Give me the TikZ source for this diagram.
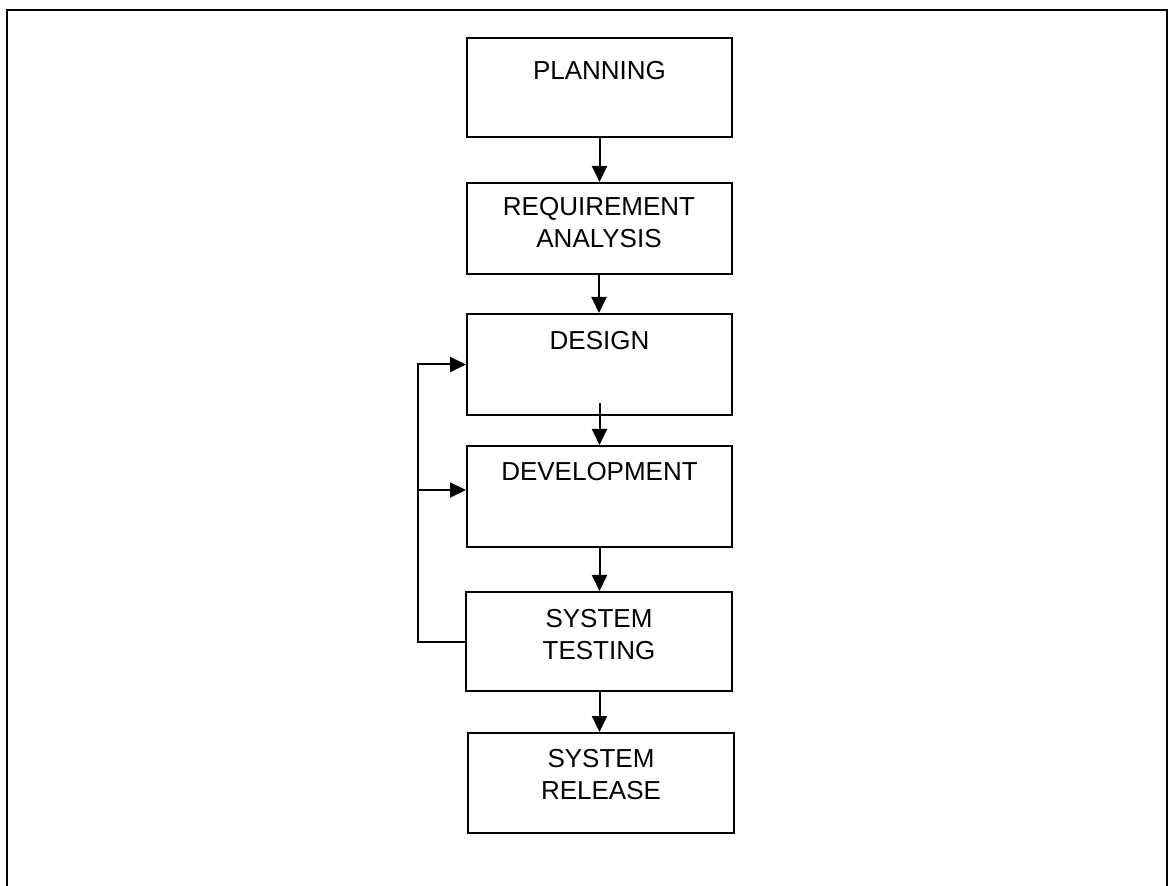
\documentclass[tikz,border=0pt]{standalone}
\usepackage{fontspec}
\setmainfont{Liberation Sans}
\usetikzlibrary{arrows.meta,calc}
\tikzset{
  stage/.style={draw, line width=1pt, inner sep=0pt, minimum width=132.5pt},
  caption/.style={anchor=north, inner sep=0pt, align=center,
                  font=\fontsize{13pt}{16pt}\selectfont},
  flow/.style={line width=1pt, -{Triangle[length=8pt,width=7.5pt]}},
  frameline/.style={line width=1pt}
}
\begin{document}
\begin{tikzpicture}[x=0.5pt,y=-0.5pt]
\useasboundingbox (0,0) rectangle (1171,886);
% page frame, open at the bottom
\draw[frameline] (7,886) -- (7,10) -- (1167,10) -- (1167,886);

% stages
\node[stage, minimum height=49.5pt] (plan)    at (599.5,87.5) {};
\node[stage, minimum height=45.5pt] (req)     at (599,228.5)  {};
\node[stage, minimum height=50.5pt] (design)  at (599.5,364.5){};
\node[stage, minimum height=50.5pt] (dev)     at (599.5,496.5){};
\node[stage, minimum height=49.5pt, minimum width=133pt] (test)    at (599,641.5)  {};
\node[stage, minimum height=50pt,   minimum width=133pt] (release) at (601,783)    {};

% stage captions
\node[caption] (planT)    at ($(plan.north)+(0,24)$)    {PLANNING};
\node[caption] (reqT)     at ($(req.north)+(0,15)$)     {REQUIREMENT\\ANALYSIS};
\node[caption] (designT)  at ($(design.north)+(0,18)$)  {DESIGN};
\node[caption] (devT)     at ($(dev.north)+(0,17)$)     {DEVELOPMENT};
\node[caption] (testT)    at ($(test.north)+(0,18)$)    {SYSTEM\\TESTING};
\node[caption] (releaseT) at ($(release.north)+(0,17)$) {SYSTEM\\RELEASE};

% main flow
\draw[flow] (plan.south) -- (req.north -| plan.south);
\draw[flow] (req.south) -- (design.north -| req.south);
\draw[flow] ($(design.south)+(0,-13)$) -- (dev.north);
\draw[flow] (dev.south) -- (test.north -| dev.south);
\draw[flow] (dev.south |- test.south) -- (dev.south |- release.north);

% feedback from testing
\coordinate (loop) at (418,641.5);
\coordinate (branch) at (418,490);
\draw[flow] (test.west) -- (loop) |- (design.west);
\draw[flow] (branch) -- (dev.west |- branch);
\end{tikzpicture}
\end{document}
